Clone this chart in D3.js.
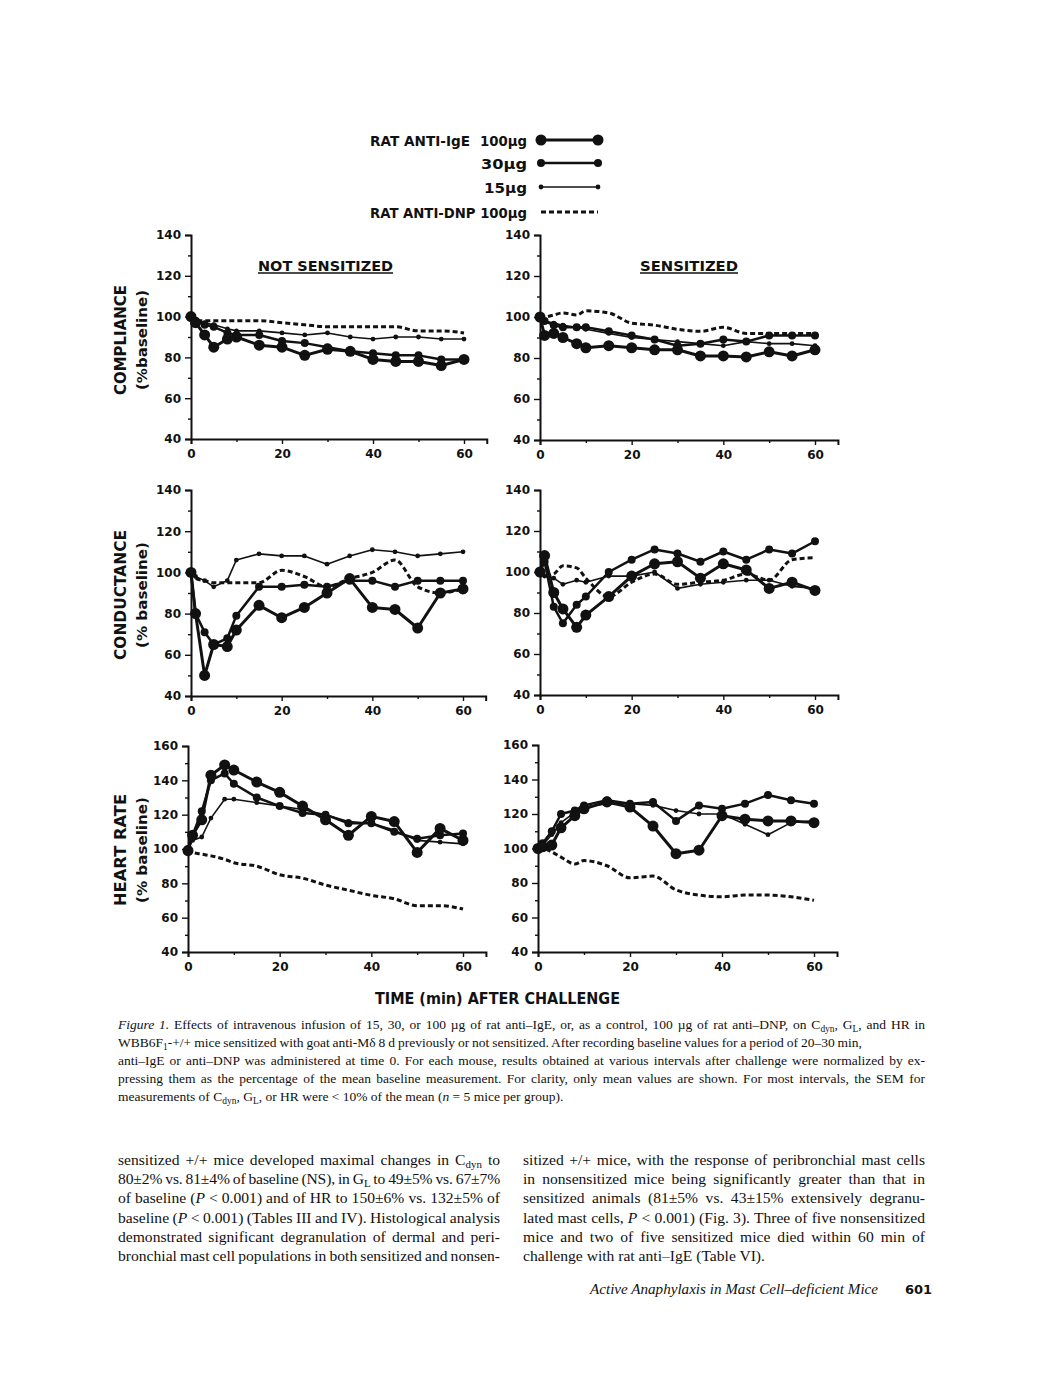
<!DOCTYPE html>
<html><head><meta charset="utf-8">
<script src="https://cdn.jsdelivr.net/npm/d3@7"></script>
<style>body{margin:0;background:#fff} svg{display:block}</style>
</head><body>
<svg id="c" width="1056" height="1374"></svg>
<script>
// ---------- data ----------
const times = [0,1,3,5,8,10,15,20,25,30,35,40,45,50,55,60];
const xTicks = [0,20,40,60];
const yTicksLung = [40,60,80,100,120,140];
const yTicksHR = [40,60,80,100,120,140,160];

// Compliance, not sensitized
const compNS_100 = [100,97,91,85,89,90,86,85,81,84,83,79,78,78,76,79];
const compNS_30  = [100,98,96,95,92,91,91,88,87,85,83,82,81,81,79,79];
const compNS_15  = [100,98,97,96,94,93,93,92,91,92,90,89,90,90,89,89];
const compNS_dnp = [100,98,98,98,98,98,98,97,96,95,95,95,95,93,93,92];
// Compliance, sensitized
const compS_100 = [100,91,92,90,87,85,86,85,84,84,81,81,80.5,83,81,84];
const compS_30  = [100,98,96,95,95,95,93,91,89,86,87,89,88,91,91,91];
const compS_15  = [100,98,97,96,95,94,92,90,89,88,87,86,88,87,87,86];
const compS_dnp = [100,100,101,102,101,103,102,97,96,94,93,95,92,92,92,92];
// Conductance, not sensitized
const condNS_100 = [100,80,50,65,64,72,84,78,83,90,97,83,82,73,90,92];
const condNS_30  = [100,80,71,65,68,79,93,93,94,93,96,96,93,96,96,96];
const condNS_15  = [100,98,96,93,96,106,109,108,108,104,108,111,110,108,109,110];
const condNS_dnp = [100,97,96,95,95,95,95,101,98,93,97,100,106,93,90,92];
// Conductance, sensitized
const condS_100 = [100,108,90,82,73,79,88,98,104,105,97,104,101,92,95,91];
const condS_30  = [100,105,83,75,84,88,100,106,111,109,105,110,106,111,109,115];
const condS_15  = [100,98,97,94,96,95,98,98,100,92,94,95,96,96,93,92];
const condS_dnp = [100,98,99,103,102,97,88,95,99,94,95,96,99,96,106,107];
// Heart rate, not sensitized
const hrNS_100 = [99,108,117,143,149,146,139,133,125,117,108,119,116,98,112,105];
const hrNS_30  = [100,108,122,140,144,138,130,125,121,120,115,115,110,106,108,109];
const hrNS_15  = [100,105,107,118,129,129,127,125,123,120,116,115,111,105,104,103];
const hrNS_dnp = [100,98,97,96,94,92,90,85,83,79,76,73,71,67,67,65];
// Heart rate, sensitized
const hrS_100 = [100,101,102,112,119,123,127,124,113,97,99,119,117,116,116,115];
const hrS_30  = [100,103,110,120,122,125,128,126,127,116,125,123,126,131,128,126];
const hrS_15  = [100,102,108,115,121,124,126,126,125,122,120,120,114,108,115,116];
const hrS_dnp = [100,100,98,95,91,93,90,83,84,76,73,72,73,73,72,70];

const legendLabels = ["100µg","30µg","15µg","RAT ANTI-DNP 100µg"];

// ---------- drawing ----------
const svg = d3.select("#c");
const SANS = "'DejaVu Sans', 'Liberation Sans', sans-serif";
const SERIF = "'Liberation Serif', 'DejaVu Serif', serif";

const styles = {
  ige100:{w:3, r:5.5, dash:null},
  ige30:{w:2.5, r:4, dash:null},
  ige15:{w:1.6, r:2.4, dash:null},
  dnp:{w:3, r:0, dash:"5,3"}
};

const panels = [
  {x0:191,x60:464,yTop:235,yBot:439,dom:[40,140],ticks:yTicksLung,s:{dnp:compNS_dnp,ige15:compNS_15,ige30:compNS_30,ige100:compNS_100}},
  {x0:540,x60:815,yTop:235,yBot:440,dom:[40,140],ticks:yTicksLung,s:{dnp:compS_dnp,ige15:compS_15,ige30:compS_30,ige100:compS_100}},
  {x0:191,x60:463,yTop:490,yBot:696,dom:[40,140],ticks:yTicksLung,s:{dnp:condNS_dnp,ige15:condNS_15,ige30:condNS_30,ige100:condNS_100}},
  {x0:540,x60:815,yTop:490,yBot:695,dom:[40,140],ticks:yTicksLung,s:{dnp:condS_dnp,ige15:condS_15,ige30:condS_30,ige100:condS_100}},
  {x0:188,x60:463,yTop:746,yBot:952,dom:[40,160],ticks:yTicksHR,s:{dnp:hrNS_dnp,ige15:hrNS_15,ige30:hrNS_30,ige100:hrNS_100}},
  {x0:538,x60:814,yTop:745,yBot:952,dom:[40,160],ticks:yTicksHR,s:{dnp:hrS_dnp,ige15:hrS_15,ige30:hrS_30,ige100:hrS_100}}
];

panels.forEach(p=>{
  const k = (p.x60-p.x0)/60;
  const x = d3.scaleLinear().domain([0,65]).range([p.x0, p.x0+65*k]);
  const y = d3.scaleLinear().domain(p.dom).range([p.yBot,p.yTop]);
  const g = svg.append("g");
  const minorY = d3.range(p.dom[0]+10, p.dom[1], 20);
  g.append("g").attr("transform",`translate(${p.x0},0)`)
    .call(d3.axisLeft(y).tickValues(minorY).tickSize(3).tickFormat(""))
    .call(a=>a.select(".domain").remove());
  g.append("g").attr("transform",`translate(0,${p.yBot})`)
    .call(d3.axisBottom(x).tickValues([10,30,50]).tickSize(3).tickFormat(""))
    .call(a=>a.select(".domain").remove());
  const ya = g.append("g").attr("transform",`translate(${p.x0},0)`)
    .call(d3.axisLeft(y).tickValues(p.ticks).tickSize(6).tickPadding(4).tickFormat(d3.format("d")));
  const xa = g.append("g").attr("transform",`translate(0,${p.yBot})`)
    .call(d3.axisBottom(x).tickValues(xTicks).tickSize(5).tickPadding(5).tickFormat(d3.format("d")));
  [ya,xa].forEach(a=>{
    a.selectAll("text").attr("font-family",SANS).attr("font-weight","bold").attr("font-size",12).attr("fill","#111");
  });
  g.selectAll(".tick line").attr("stroke","#111").attr("stroke-width",1.4);
  g.selectAll(".domain").attr("stroke","#111").attr("stroke-width",2);

  ["dnp","ige15","ige30","ige100"].forEach(key=>{
    const st = styles[key];
    const pts = times.map((t,i)=>({t, v:p.s[key][i]}));
    const line = d3.line().x(d=>x(d.t)).y(d=>y(d.v))
      .curve(key==="dnp"?d3.curveMonotoneX:d3.curveLinear);
    g.append("path").attr("d",line(pts)).attr("fill","none")
      .attr("stroke","#111").attr("stroke-width",st.w)
      .attr("stroke-dasharray",st.dash).attr("stroke-linejoin","round");
    if(st.r>0){
      g.selectAll(null).data(pts).enter().append("circle")
        .attr("cx",d=>x(d.t)).attr("cy",d=>y(d.v)).attr("r",st.r).attr("fill","#111");
    }
  });
});

// panel titles
function title(txt,x0,x1,yb){
  svg.append("text").attr("x",x0).attr("y",yb).attr("font-family",SANS).attr("font-weight","bold")
    .attr("font-size",14).attr("textLength",x1-x0).attr("lengthAdjust","spacingAndGlyphs").attr("fill","#111").text(txt);
  svg.append("line").attr("x1",x0).attr("x2",x1).attr("y1",yb+2).attr("y2",yb+2).attr("stroke","#111").attr("stroke-width",1.5);
}
title("NOT SENSITIZED",258,393,271);
title("SENSITIZED",640,738,271);

// y-axis titles
function ytitle(line1,line2,cy,len1,len2){
  svg.append("text").attr("transform",`translate(126,${cy}) rotate(-90)`).attr("text-anchor","middle")
    .attr("font-family",SANS).attr("font-weight","bold").attr("font-size",15).attr("fill","#111")
    .attr("textLength",len1).attr("lengthAdjust","spacingAndGlyphs").text(line1);
  svg.append("text").attr("transform",`translate(147,${cy}) rotate(-90)`).attr("text-anchor","middle")
    .attr("font-family",SANS).attr("font-weight","bold").attr("font-size",14).attr("fill","#111")
    .attr("textLength",len2).attr("lengthAdjust","spacingAndGlyphs").text(line2);
}
ytitle("COMPLIANCE","(%baseline)",340,110,100);
ytitle("CONDUCTANCE","(% baseline)",595,130,106);
ytitle("HEART RATE","(% baseline)",850,112,106);

// legend
const lg = svg.append("g").attr("font-family",SANS).attr("font-weight","bold").attr("font-size",14).attr("fill","#111");
lg.append("text").attr("x",370).attr("y",146).attr("textLength",100).attr("lengthAdjust","spacingAndGlyphs").text("RAT ANTI-IgE");
const legRows = [
  {key:"ige100", y:140, x0:480, lab:legendLabels[0]},
  {key:"ige30", y:163, x0:481, lab:legendLabels[1]},
  {key:"ige15", y:187, x0:484, lab:legendLabels[2]},
  {key:"dnp", y:212, x0:370, lab:legendLabels[3]}
];
legRows.forEach(r=>{
  lg.append("text").attr("x",r.x0).attr("y",r.y+6).attr("textLength",527-r.x0).attr("lengthAdjust","spacingAndGlyphs").text(r.lab);
  const st = styles[r.key];
  lg.append("line").attr("x1",541).attr("x2",598).attr("y1",r.y).attr("y2",r.y)
    .attr("stroke","#111").attr("stroke-width",st.w).attr("stroke-dasharray",st.dash);
  if(st.r>0){[541,598].forEach(cx=>lg.append("circle").attr("cx",cx).attr("cy",r.y).attr("r",st.r).attr("fill","#111"));}
});

// x-axis title
svg.append("text").attr("x",375).attr("y",1004).attr("font-family",SANS).attr("font-weight","bold")
  .attr("font-size",16).attr("textLength",245).attr("lengthAdjust","spacingAndGlyphs").attr("fill","#111")
  .text("TIME (min) AFTER CHALLENGE");

// rich text helper (subscripts shift the baseline down, next segment shifts back)
function rich(x,y,segs,size,width){
  const t = svg.append("text").attr("x",x).attr("y",y).attr("font-family",SERIF).attr("font-size",size).attr("fill","#111").attr("xml:space","preserve");
  let pending = 0;
  segs.forEach(s=>{
    let sp;
    if(typeof s==="string"){ sp = t.append("tspan").text(s); }
    else if(s.i){ sp = t.append("tspan").attr("font-style","italic").text(s.i); }
    else if(s.sub){ sp = t.append("tspan").attr("font-size",size*0.7).text(s.sub); sp.attr("dy",3+pending); pending=-3; return; }
    if(pending){ sp.attr("dy",pending); pending=0; }
  });
  if(width){
    const nat = t.node().getComputedTextLength();
    const txt = t.text();
    const spaces = (txt.match(/ /g)||[]).length;
    let ws = spaces>0 ? (width-nat)/spaces : 0;
    if(ws < -0.8){
      t.attr("word-spacing",-0.8);
      const nat2 = nat - 0.8*spaces;
      t.attr("letter-spacing",(width-nat2)/txt.length);
    } else if(spaces>0){
      t.attr("word-spacing",ws);
    }
  }
  return t;
}
const cs = 13.5;
rich(118,1029,[{i:"Figure 1."}," Effects of intravenous infusion of 15, 30, or 100 µg of rat anti–IgE, or, as a control, 100 µg of rat anti–DNP, on C",{sub:"dyn"},", G",{sub:"L"},", and HR in"],cs,807);
rich(118,1047,["WBB6F",{sub:"1"},"-+/+ mice sensitized with goat anti-Mδ 8 d previously or not sensitized. After recording baseline values for a period of 20–30 min,"],cs,744);
rich(118,1065,["anti–IgE or anti–DNP was administered at time 0. For each mouse, results obtained at various intervals after challenge were normalized by ex-"],cs,807);
rich(118,1083,["pressing them as the percentage of the mean baseline measurement. For clarity, only mean values are shown. For most intervals, the SEM for"],cs,807);
rich(118,1101,["measurements of C",{sub:"dyn"},", G",{sub:"L"},", or HR were < 10% of the mean (",{i:"n"}," = 5 mice per group)."],cs,null);

const bs = 15.6;
const leftLines = [
  ["sensitized +/+ mice developed maximal changes in C",{sub:"dyn"}," to"],
  ["80±2% vs. 81±4% of baseline (NS), in G",{sub:"L"}," to 49±5% vs. 67±7%"],
  ["of baseline (",{i:"P"}," < 0.001) and of HR to 150±6% vs. 132±5% of"],
  ["baseline (",{i:"P"}," < 0.001) (Tables III and IV). Histological analysis"],
  ["demonstrated significant degranulation of dermal and peri-"],
  ["bronchial mast cell populations in both sensitized and nonsen-"]
];
const rightLines = [
  ["sitized +/+ mice, with the response of peribronchial mast cells"],
  ["in nonsensitized mice being significantly greater than that in"],
  ["sensitized animals (81±5% vs. 43±15% extensively degranu-"],
  ["lated mast cells, ",{i:"P"}," < 0.001) (Fig. 3). Three of five nonsensitized"],
  ["mice and two of five sensitized mice died within 60 min of"],
  ["challenge with rat anti–IgE (Table VI)."]
];
leftLines.forEach((l,i)=>rich(118,1165+i*19.2,l,bs,382));
rightLines.forEach((l,i)=>rich(523,1165+i*19.2,l,bs,i<5?402:null));

// footer
svg.append("text").attr("x",590).attr("y",1294).attr("font-family",SERIF).attr("font-style","italic")
  .attr("font-size",14.5).attr("textLength",288).attr("lengthAdjust","spacingAndGlyphs").attr("fill","#111")
  .text("Active Anaphylaxis in Mast Cell–deficient Mice");
svg.append("text").attr("x",905).attr("y",1294).attr("font-family",SANS).attr("font-weight","bold")
  .attr("font-size",13).attr("fill","#111").text("601");
</script>
</body></html>
